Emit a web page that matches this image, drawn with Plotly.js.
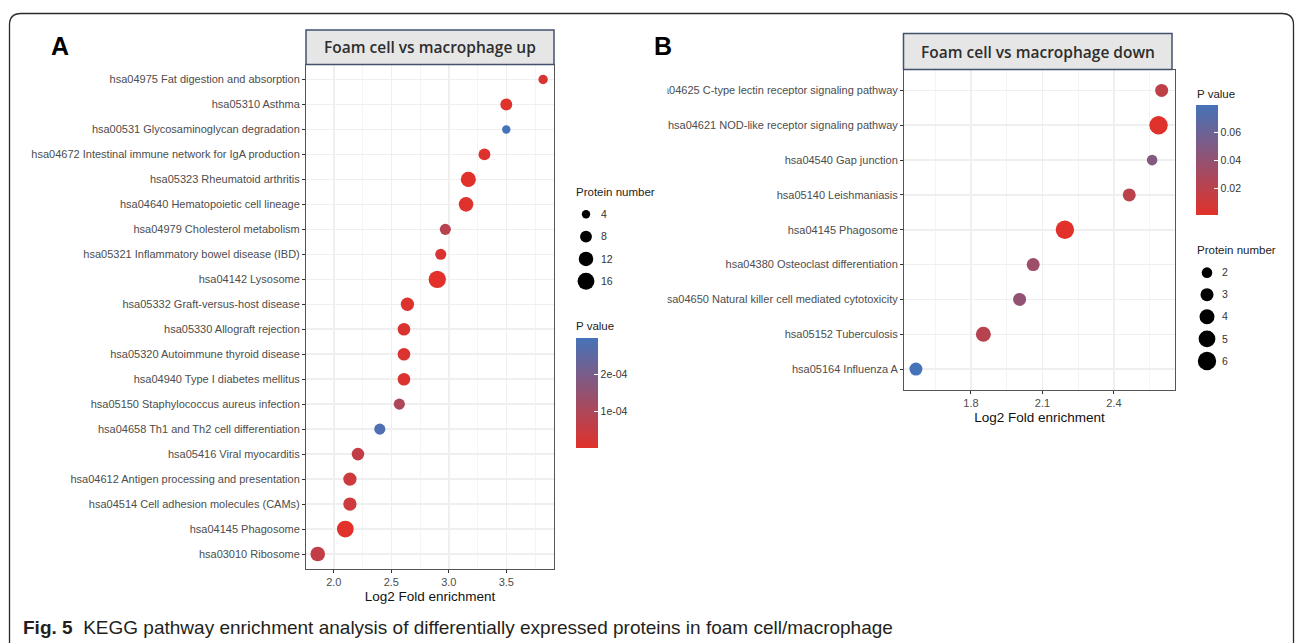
<!DOCTYPE html>
<html><head><meta charset="utf-8">
<script src="https://cdn.plot.ly/plotly-3.0.1.min.js"></script>
<style>html,body{margin:0;padding:0;background:#fff;}#chart{width:1295px;height:643px;}</style>
</head><body><div id="chart"></div>
<script>
// ---------- Panel A: Foam cell vs macrophage up (top to bottom) ----------
const pathwaysUp = [
  "hsa04975 Fat digestion and absorption",
  "hsa05310 Asthma",
  "hsa00531 Glycosaminoglycan degradation",
  "hsa04672 Intestinal immune network for IgA production",
  "hsa05323 Rheumatoid arthritis",
  "hsa04640 Hematopoietic cell lineage",
  "hsa04979 Cholesterol metabolism",
  "hsa05321 Inflammatory bowel disease (IBD)",
  "hsa04142 Lysosome",
  "hsa05332 Graft-versus-host disease",
  "hsa05330 Allograft rejection",
  "hsa05320 Autoimmune thyroid disease",
  "hsa04940 Type I diabetes mellitus",
  "hsa05150 Staphylococcus aureus infection",
  "hsa04658 Th1 and Th2 cell differentiation",
  "hsa05416 Viral myocarditis",
  "hsa04612 Antigen processing and presentation",
  "hsa04514 Cell adhesion molecules (CAMs)",
  "hsa04145 Phagosome",
  "hsa03010 Ribosome"
];
const foldUp  = [3.82, 3.50, 3.50, 3.31, 3.17, 3.15, 2.97, 2.93, 2.90, 2.64, 2.61, 2.61, 2.61, 2.57, 2.40, 2.21, 2.14, 2.14, 2.10, 1.86];
const countUp = [5, 8, 4, 8, 13, 12, 7, 7, 17, 10, 9, 9, 9, 7, 7, 9, 10, 10, 16, 12];
const pvalUp  = [1.5e-5, 5e-6, 2.97e-4, 8e-6, 3e-6, 4e-6, 8e-5, 1.5e-5, 1e-6, 1e-5, 1.2e-5, 1.2e-5, 1.2e-5, 1.0e-4, 2.8e-4, 6e-5, 4e-5, 4e-5, 2e-7, 6e-5];

// ---------- Panel B: Foam cell vs macrophage down (top to bottom) ----------
const pathwaysDown = [
  "hsa04625 C-type lectin receptor signaling pathway",
  "hsa04621 NOD-like receptor signaling pathway",
  "hsa04540 Gap junction",
  "hsa05140 Leishmaniasis",
  "hsa04145 Phagosome",
  "hsa04380 Osteoclast differentiation",
  "hsa04650 Natural killer cell mediated cytotoxicity",
  "hsa05152 Tuberculosis",
  "hsa05164 Influenza A"
];
const foldDown  = [2.60, 2.587, 2.56, 2.464, 2.194, 2.061, 2.004, 1.852, 1.569];
const countDown = [3, 6, 2, 3, 6, 3, 3, 4, 3];
const pvalDown  = [0.018, 0.002, 0.048, 0.02, 0.001, 0.035, 0.04, 0.022, 0.0795];

// ---------- Legend values / tick labels ----------
const sizeLegendUp = [4, 8, 12, 16];
const sizeLegendDown = [2, 3, 4, 5, 6];
const pTicksUp = [1e-4, 2e-4];
const pTickTextUp = ["1e-04", "2e-04"];
const pTicksDown = [0.02, 0.04, 0.06];
const pTickTextDown = ["0.02", "0.04", "0.06"];
const headerUp = "Foam cell vs macrophage up";
const headerDown = "Foam cell vs macrophage down";
const xTitle = "Log2 Fold enrichment";
const sizeTitle = "Protein number";
const colorTitle = "P value";
const caption = "<b>Fig. 5</b>  KEGG pathway enrichment analysis of differentially expressed proteins in foam cell/macrophage";

// ---------- helpers ----------
const W = 1295, H = 643;
const px = v => v / W;
const py = v => 1 - v / H;
const sizeA = v => 4.2 * Math.sqrt(v);   // area scale (diameter in px)
const sizeB = v => 7.5 * Math.sqrt(v);
const RED = "#E1312A", BLUE = "#4573B9";
const colorscale = [[0, RED], [1, BLUE]];
const tickFont = {family: "Liberation Sans, Arial, sans-serif", size: 11, color: "#4D4D4D"};
const legFont = {family: "Liberation Sans, Arial, sans-serif", size: 10.5, color: "#333"};
const titleFont = {family: "Liberation Sans, Arial, sans-serif", size: 13.5, color: "#111"};

const traces = [
  {type: "scatter", mode: "markers", x: foldUp, y: pathwaysUp, xaxis: "x", yaxis: "y",
   marker: {size: countUp.map(sizeA), color: pvalUp, coloraxis: "coloraxis", line: {width: 0}, opacity: 1},
   showlegend: false, hoverinfo: "skip"},
  {type: "scatter", mode: "markers", x: foldDown, y: pathwaysDown, xaxis: "x2", yaxis: "y2",
   marker: {size: countDown.map(sizeB), color: pvalDown, coloraxis: "coloraxis2", line: {width: 0}, opacity: 1},
   showlegend: false, hoverinfo: "skip"},
  {type: "scatter", mode: "markers", x: sizeLegendUp.map(() => 0), y: sizeLegendUp.map(String), xaxis: "x3", yaxis: "y3",
   marker: {size: sizeLegendUp.map(sizeA), color: "#000", line: {width: 0}, opacity: 1}, showlegend: false, hoverinfo: "skip"},
  {type: "scatter", mode: "markers", x: sizeLegendDown.map(() => 0), y: sizeLegendDown.map(String), xaxis: "x4", yaxis: "y4",
   marker: {size: sizeLegendDown.map(sizeB), color: "#000", line: {width: 0}, opacity: 1}, showlegend: false, hoverinfo: "skip"}
];

const axisCommon = {
  showline: true, mirror: true, linecolor: "#555", linewidth: 1,
  ticks: "outside", ticklen: 3, tickcolor: "#333", tickwidth: 1,
  showgrid: true, gridcolor: "#EFEFEF", gridwidth: 1.5, zeroline: false,
  tickfont: tickFont, automargin: false, fixedrange: true
};

const layout = {
  width: W, height: H, margin: {l: 0, r: 0, t: 0, b: 0},
  paper_bgcolor: "#fff", plot_bgcolor: "#fff", showlegend: false,
  font: {family: "Liberation Sans, Arial, sans-serif"},
  xaxis: Object.assign({}, axisCommon, {
    domain: [px(306), px(554)], anchor: "y", range: [1.758, 3.915], tick0: 2, dtick: 0.5, tickformat: ".1f",
    minor: {tick0: 2, dtick: 0.25, showgrid: true, gridcolor: "#F4F4F4", gridwidth: 1, ticks: ""},
    title: {text: xTitle, font: titleFont, standoff: 4}
  }),
  yaxis: Object.assign({}, axisCommon, {
    domain: [py(569), py(64.5)], anchor: "x", type: "category",
    categoryorder: "array", categoryarray: pathwaysUp, range: [pathwaysUp.length - 0.4, -0.6]
  }),
  xaxis2: Object.assign({}, axisCommon, {
    domain: [px(904), px(1175)], anchor: "y2", range: [1.519, 2.656], tick0: 1.8, dtick: 0.3, tickformat: ".1f",
    minor: {tick0: 1.8, dtick: 0.15, showgrid: true, gridcolor: "#F4F4F4", gridwidth: 1, ticks: ""},
    title: {text: xTitle, font: titleFont, standoff: 4}
  }),
  yaxis2: Object.assign({}, axisCommon, {
    domain: [py(390), py(69.5)], anchor: "x2", type: "category",
    categoryorder: "array", categoryarray: pathwaysDown, range: [pathwaysDown.length - 0.4, -0.6]
  }),
  xaxis3: {domain: [px(572), px(600)], anchor: "y3", range: [-1, 1], visible: false, fixedrange: true},
  yaxis3: {domain: [py(292.4), py(203.1)], anchor: "x3", type: "category", side: "right",
           categoryorder: "array", categoryarray: sizeLegendUp.map(String),
           range: [sizeLegendUp.length - 0.5, -0.5], showline: false, showgrid: false, zeroline: false,
           ticks: "", tickfont: legFont, automargin: false, fixedrange: true},
  xaxis4: {domain: [px(1193), px(1221)], anchor: "y4", range: [-1, 1], visible: false, fixedrange: true},
  yaxis4: {domain: [py(372), py(261.6)], anchor: "x4", type: "category", side: "right",
           categoryorder: "array", categoryarray: sizeLegendDown.map(String),
           range: [sizeLegendDown.length - 0.5, -0.5], showline: false, showgrid: false, zeroline: false,
           ticks: "", tickfont: legFont, automargin: false, fixedrange: true},
  coloraxis: {
    colorscale: colorscale, cmin: Math.min(...pvalUp), cmax: Math.max(...pvalUp),
    colorbar: {x: px(575.7), xanchor: "left", xpad: 0, y: py(448.3), yanchor: "bottom", ypad: 0,
               len: 110, lenmode: "pixels", thickness: 22, thicknessmode: "pixels", outlinewidth: 0,
               tickvals: pTicksUp, ticktext: pTickTextUp, ticks: "inside", ticklen: 4, tickcolor: "#fff",
               tickfont: legFont, title: {text: ""}}
  },
  coloraxis2: {
    colorscale: colorscale, cmin: Math.min(...pvalDown), cmax: Math.max(...pvalDown),
    colorbar: {x: px(1196), xanchor: "left", xpad: 0, y: py(215), yanchor: "bottom", ypad: 0,
               len: 110, lenmode: "pixels", thickness: 22, thicknessmode: "pixels", outlinewidth: 0,
               tickvals: pTicksDown, ticktext: pTickTextDown, ticks: "inside", ticklen: 4, tickcolor: "#fff",
               tickfont: legFont, title: {text: ""}}
  },
  shapes: [
    // outer rounded frame
    {type: "path", xref: "paper", yref: "paper", layer: "below",
     path: `M ${px(9.5)},${py(700)} L ${px(9.5)},${py(25)} Q ${px(9.5)},${py(13.5)} ${px(21)},${py(13.5)} L ${px(1282)},${py(13.5)} Q ${px(1293.5)},${py(13.5)} ${px(1293.5)},${py(25)} L ${px(1293.5)},${py(700)}`,
     line: {color: "#2A2A2A", width: 1.3}},
    // strip headers
    {type: "rect", xref: "paper", yref: "paper", layer: "above",
     x0: px(306), x1: px(554), y0: py(64.5), y1: py(30), fillcolor: "#E6E6E6", line: {color: "#42526B", width: 1.5}},
    {type: "rect", xref: "paper", yref: "paper", layer: "above",
     x0: px(903.5), x1: px(1172), y0: py(69.5), y1: py(33.5), fillcolor: "#E6E6E6", line: {color: "#42526B", width: 1.5}},
    // crop edge of panel B (labels cut in the reference)
    {type: "rect", xref: "paper", yref: "paper", layer: "above",
     x0: px(636), x1: px(667.5), y0: py(385), y1: py(75), fillcolor: "#fff", line: {width: 0}}
  ],
  annotations: [
    {text: "A", xref: "paper", yref: "paper", x: px(60), y: py(46), xanchor: "center", yanchor: "middle", showarrow: false,
     font: {family: "Liberation Sans, Arial, sans-serif", size: 25, color: "#000", weight: "bold"}},
    {text: "B", xref: "paper", yref: "paper", x: px(663), y: py(45.5), xanchor: "center", yanchor: "middle", showarrow: false,
     font: {family: "Liberation Sans, Arial, sans-serif", size: 25, color: "#000", weight: "bold"}},
    {text: headerUp, xref: "paper", yref: "paper", x: px(430), y: py(47.5), xanchor: "center", yanchor: "middle", showarrow: false,
     font: {family: "Open Sans, Noto Sans, sans-serif", size: 15.5, color: "#2E2E2E", weight: 600}},
    {text: headerDown, xref: "paper", yref: "paper", x: px(1037.5), y: py(51.5), xanchor: "center", yanchor: "middle", showarrow: false,
     font: {family: "Open Sans, Noto Sans, sans-serif", size: 15.5, color: "#2E2E2E", weight: 600}},
    {text: sizeTitle, xref: "paper", yref: "paper", x: px(574), y: py(192.5), xanchor: "left", yanchor: "middle", showarrow: false,
     font: {family: "Liberation Sans, Arial, sans-serif", size: 11.5, color: "#222"}},
    {text: colorTitle, xref: "paper", yref: "paper", x: px(574), y: py(326), xanchor: "left", yanchor: "middle", showarrow: false,
     font: {family: "Liberation Sans, Arial, sans-serif", size: 11.5, color: "#222"}},
    {text: colorTitle, xref: "paper", yref: "paper", x: px(1195), y: py(93.5), xanchor: "left", yanchor: "middle", showarrow: false,
     font: {family: "Liberation Sans, Arial, sans-serif", size: 11.5, color: "#222"}},
    {text: sizeTitle, xref: "paper", yref: "paper", x: px(1195), y: py(250), xanchor: "left", yanchor: "middle", showarrow: false,
     font: {family: "Liberation Sans, Arial, sans-serif", size: 11.5, color: "#222"}},
    {text: caption, xref: "paper", yref: "paper", x: px(21), y: py(627), xanchor: "left", yanchor: "middle", showarrow: false,
     font: {family: "Liberation Sans Narrow, Arial Narrow, Liberation Sans, sans-serif", size: 19, color: "#231F20"}}
  ]
};

Plotly.newPlot("chart", traces, layout, {staticPlot: true, displayModeBar: false});
</script>
</body></html>
